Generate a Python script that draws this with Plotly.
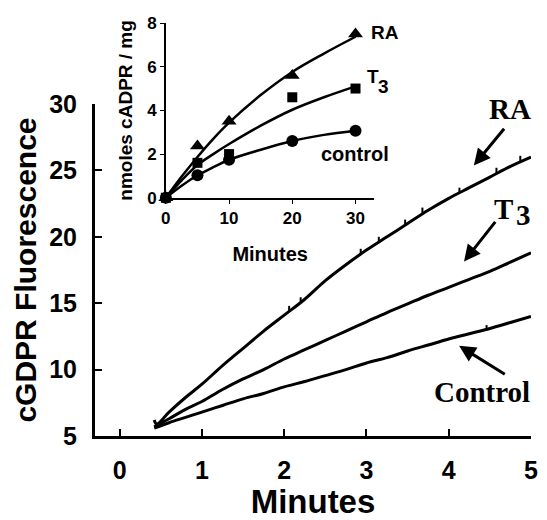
import plotly.graph_objects as go

# ---------------- main plot data (minutes, fluorescence) ----------------
ra_t = [0.42, 0.45, 0.6, 0.8, 1.0, 1.25, 1.5, 1.75, 2.0, 2.25, 2.5, 2.75, 3.0, 3.25, 3.5, 3.75, 4.0, 4.25, 4.5, 4.75, 5.0]
ra_v = [6.2, 5.9, 6.8, 7.9, 8.9, 10.3, 11.6, 12.9, 14.1, 15.3, 16.7, 17.9, 19.0, 20.0, 21.0, 22.0, 22.9, 23.7, 24.5, 25.3, 26.0]

t3_t = [0.42, 0.6, 0.8, 1.0, 1.25, 1.5, 1.75, 2.0, 2.25, 2.5, 2.75, 3.0, 3.25, 3.5, 3.75, 4.0, 4.25, 4.5, 4.75, 5.0]
t3_v = [5.7, 6.3, 7.0, 7.6, 8.5, 9.3, 10.0, 10.8, 11.5, 12.2, 12.9, 13.6, 14.3, 14.95, 15.6, 16.2, 16.8, 17.4, 18.1, 18.8]

ctl_t = [0.42, 0.6, 0.8, 1.0, 1.25, 1.5, 1.75, 2.0, 2.25, 2.5, 2.75, 3.0, 3.25, 3.5, 3.75, 4.0, 4.25, 4.5, 4.75, 5.0]
ctl_v = [5.6, 6.0, 6.4, 6.8, 7.3, 7.8, 8.2, 8.7, 9.1, 9.55, 10.0, 10.5, 10.9, 11.4, 11.85, 12.3, 12.7, 13.1, 13.55, 14.0]

# noise spikes on the traces (time, low, high)
spike_t = [2.06, 2.2, 2.93, 3.15, 3.47, 3.68, 4.13, 4.58, 4.87, 4.46]
spike_lo = [14.4, 15.1, 18.7, 19.6, 20.9, 21.7, 23.3, 24.75, 25.65, 13.0]
spike_hi = [14.8, 15.45, 19.1, 20.0, 21.3, 22.2, 23.7, 25.2, 26.1, 13.35]

main_xticks = [0, 1, 2, 3, 4, 5]
main_yticks = [5, 10, 15, 20, 25, 30]

# ---------------- inset data (minutes, nmoles cADPR / mg) ----------------
in_t = [0, 5, 10, 20, 30]
in_ra = [0, 2.37, 3.5, 5.6, 7.5]
in_t3 = [0, 1.6, 2.0, 4.6, 5.0]
in_ctl = [0, 1.03, 1.74, 2.6, 3.07]

fit_t = [0, 2.5, 5, 7.5, 10, 15, 20, 25, 30]
fit_ra = [0, 0.97, 1.87, 2.7, 3.44, 4.7, 5.76, 6.6, 7.37]
fit_t3 = [0, 0.8, 1.5, 2.0, 2.46, 3.3, 4.03, 4.6, 5.1]
fit_ctl = [0, 0.55, 1.03, 1.4, 1.74, 2.2, 2.6, 2.88, 3.07]

in_xticks = [0, 10, 20, 30]
in_yticks = [0, 2, 4, 6, 8]

SANS = "Liberation Sans"
SERIF = "Liberation Serif"
BLACK = "black"

fig = go.Figure()

for tt, vv in [(ra_t, ra_v), (t3_t, t3_v), (ctl_t, ctl_v)]:
    fig.add_trace(go.Scatter(x=tt, y=vv, mode="lines", line=dict(color=BLACK, width=3),
                             line_shape="spline", showlegend=False, hoverinfo="skip"))

sx, sy = [], []
for t, lo, hi in zip(spike_t, spike_lo, spike_hi):
    sx += [t, t, None]
    sy += [lo, hi, None]
fig.add_trace(go.Scatter(x=sx, y=sy, mode="lines", line=dict(color=BLACK, width=2),
                         showlegend=False, hoverinfo="skip"))

# inset curves and markers
for vv in [fit_ra, fit_t3, fit_ctl]:
    fig.add_trace(go.Scatter(x=fit_t, y=vv, mode="lines", xaxis="x2", yaxis="y2",
                             line=dict(color=BLACK, width=2.5), line_shape="spline",
                             showlegend=False, hoverinfo="skip", cliponaxis=False))
for vv, sym, sz in [(in_ra, "triangle-up", 13), (in_t3, "square", 10), (in_ctl, "circle", 12)]:
    fig.add_trace(go.Scatter(x=in_t, y=vv, mode="markers", xaxis="x2", yaxis="y2",
                             marker=dict(color=BLACK, symbol=sym, size=sz),
                             showlegend=False, hoverinfo="skip", cliponaxis=False))

tick_font = dict(family=SANS, size=25, color=BLACK, weight="bold")
in_font = dict(family=SANS, size=17, color=BLACK, weight="bold")

fig.update_layout(
    width=547, height=520,
    margin=dict(l=95, r=9, t=18, b=79),
    paper_bgcolor="white", plot_bgcolor="white",
    xaxis=dict(domain=[0, 1], range=[-0.3, 5], tickvals=main_xticks,
               showline=True, linecolor=BLACK, linewidth=3, ticks="inside",
               ticklen=7, tickwidth=2, tickcolor=BLACK, showgrid=False, zeroline=False,
               tickfont=tick_font, ticklabelstandoff=10,
               title=dict(text="Minutes", font=dict(family=SANS, size=33, color=BLACK, weight="bold"),
                          standoff=4)),
    yaxis=dict(domain=[0, 0.8038], range=[5, 30], tickvals=main_yticks,
               showline=True, linecolor=BLACK, linewidth=3, ticks="inside",
               ticklen=7, tickwidth=2, tickcolor=BLACK, showgrid=False, zeroline=False,
               tickfont=tick_font, ticklabelstandoff=10,
               title=dict(text="cGDPR Fluorescence", font=dict(family=SANS, size=30, color=BLACK, weight="bold"),
                          standoff=4)),
    xaxis2=dict(domain=[0.1625, 0.641], range=[0, 33], tickvals=in_xticks, anchor="y2",
                showline=True, linecolor=BLACK, linewidth=1.5, ticks="outside",
                ticklen=4, tickwidth=1, tickcolor=BLACK, showgrid=False, zeroline=False,
                tickfont=in_font,
                title=dict(text="Minutes", font=dict(family=SANS, size=20, color=BLACK, weight="bold"),
                           standoff=20)),
    yaxis2=dict(domain=[0.5768, 1], range=[0, 8], tickvals=in_yticks, anchor="x2",
                showline=True, linecolor=BLACK, linewidth=1.5, ticks="outside",
                ticklen=4, tickwidth=1, tickcolor=BLACK, showgrid=False, zeroline=False,
                tickfont=in_font,
                title=dict(text="nmoles cADPR / mg", font=dict(family=SANS, size=19, color=BLACK, weight="bold"),
                           standoff=10)),
)

ann = []
# main labels (serif bold)
serif = dict(family=SERIF, size=29, color=BLACK, weight="bold")
ann.append(dict(x=4.75, y=29.6, xref="x", yref="y", text="RA", showarrow=False, font=serif,
                xanchor="center", yanchor="middle"))
ann.append(dict(x=0.9639, y=0.5508, xref="paper", yref="paper", text="T", showarrow=False, font=serif,
                xanchor="right", yanchor="middle"))
ann.append(dict(x=0.9600, y=0.5343, xref="paper", yref="paper", text="3", showarrow=False,
                xanchor="left", yanchor="middle", font=serif))
ann.append(dict(x=4.40, y=8.3, xref="x", yref="y", text="Control", showarrow=False, font=serif,
                xanchor="center", yanchor="middle"))
# arrows
for tip, tail in [((4.305, 25.37), (4.688, 28.25)),
                  ((4.186, 18.14), (4.58, 21.24)),
                  ((4.126, 11.79), (4.70, 9.58))]:
    ann.append(dict(x=tip[0], y=tip[1], ax=tail[0], ay=tail[1], xref="x", yref="y",
                    axref="x", ayref="y", text="", showarrow=True, arrowhead=2,
                    arrowsize=1.1, arrowwidth=3, arrowcolor=BLACK))
# inset labels
isans = dict(family=SANS, size=19, color=BLACK, weight="bold")
ann.append(dict(x=0.6275, y=0.9764, xref="paper", yref="paper", text="RA", showarrow=False,
                xanchor="left", yanchor="middle", font=isans))
ann.append(dict(x=0.6185, y=0.870, xref="paper", yref="paper", text="T", showarrow=False,
                xanchor="left", yanchor="middle", font=isans))
ann.append(dict(x=0.6456, y=0.8463, xref="paper", yref="paper", text="3", showarrow=False,
                xanchor="left", yanchor="middle", font=isans))
ann.append(dict(x=0.596, y=0.683, xref="paper", yref="paper", text="control", showarrow=False,
                xanchor="center", yanchor="middle",
                font=dict(family=SANS, size=20, color=BLACK, weight="bold")))
fig.update_layout(annotations=ann)

fig.write_html("out.html")
